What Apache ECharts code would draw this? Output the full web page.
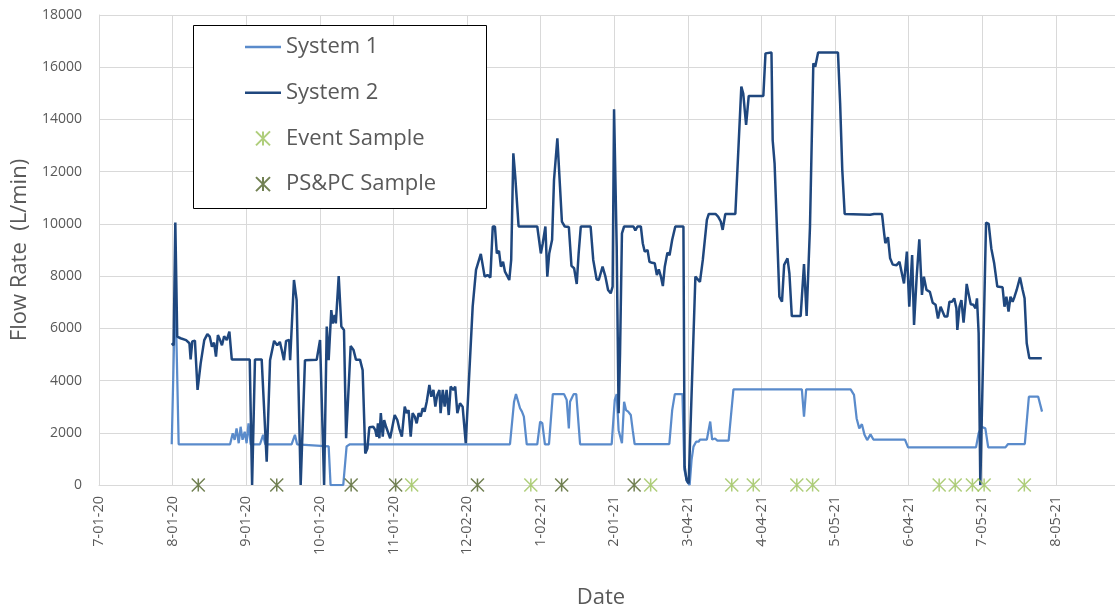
<!DOCTYPE html>
<html>
<head>
<meta charset="utf-8">
<script src="https://cdn.jsdelivr.net/npm/echarts@6/dist/echarts.min.js"></script>
<style>
html,body{margin:0;padding:0;background:#ffffff;}
#chart{width:1115px;height:607px;}
</style>
</head>
<body>
<div id="chart"></div>
<script>
// x values are days since 7-01-20
const tickLabels = ['7-01-20','8-01-20','9-01-20','10-01-20','11-01-20','12-02-20','1-02-21','2-01-21','3-04-21','4-04-21','5-05-21','6-04-21','7-05-21','8-05-21'];
const X_INTERVAL = 400 / 13;
const X_MAX = 424.7;

const seriesNames = ['System 1', 'System 2', 'Event Sample', 'PS&PC Sample'];

const system1 = [
 [30.4,1560],[31.2,1560],[31.9,7600],[33.3,1560],[35.5,1560],[36.2,1600],[37,1560],[54.8,1560],
 [55.9,1980],[56.7,1730],[57.5,2170],[58.4,1600],[59.2,2230],[60,1730],[60.9,2040],[61.7,1600],
 [62.5,2360],[63.4,1560],[67.3,1560],[68.6,1920],[69.5,1560],[80.5,1560],[81.9,1920],[82.8,1560],
 [96,1480],[96.8,0],[102.1,0],[103.5,1480],[104.9,1560],[116.8,1560],[117.4,1600],[118,1560],
 [131,1560],[131.6,1590],[132.2,1560],[152.5,1560],[153.3,1600],[154,1560],[171.8,1560],
 [173.5,3190],[174.3,3480],[175.1,3480],[176,2940],[176.8,2810],[177.6,2620],[178.8,1560],
 [183.2,1560],[184.4,2430],[185.3,2370],[186.4,1560],[188.1,1560],[189.7,3480],[194.4,3480],
 [195.5,3260],[196.4,2170],[196.9,3190],[198.4,3480],[199.5,3480],[201.1,1560],[214.3,1560],
 [215.6,3260],[216.4,3480],[217.2,2100],[218.6,1600],[219.5,3190],[220.3,2870],[221.2,2810],
 [222.3,2680],[223.1,2100],[223.9,1570],[231,1570],[231.7,1600],[232.4,1570],[238.4,1570],
 [239.6,2870],[240.7,3480],[243.9,3480],[244.7,580],[245.8,130],[246.9,0],[247.7,960],
 [248.5,1470],[249.6,1660],[250.7,1660],[251.2,1740],[254.1,1740],[255.5,2430],[256.3,1740],
 [257.5,1780],[258.5,1700],[263.2,1700],[265.2,3660],[293.8,3660],[294.7,2620],[295.6,3660],
 [314.2,3660],[315.6,3450],[316.7,2550],[317.8,2170],[318.9,2330],[320,1920],[321.1,1720],
 [322.5,1940],[323.7,1740],[336.9,1740],[338.2,1440],[366.6,1440],[367.7,1980],[368.9,2230],
 [370.5,2170],[371.7,1440],[378.9,1440],[380,1570],[387,1570],[388.7,3380],[392.6,3380],[394.2,2810]
];

const system2 = [
 [30.4,5430],[31.2,5350],[31.9,10050],[32.7,5680],[34.1,5620],[36.4,5550],[37.8,5430],[38.3,4810],
 [39,5500],[40.1,5530],[41.2,3640],[42.5,4660],[44,5550],[45.3,5780],[46.3,5680],[47.2,5300],
 [48.1,5450],[48.9,4920],[49.7,5740],[50.6,5550],[51.4,5350],[52.3,5700],[53.4,5550],[54.5,5870],
 [55.5,4810],[63.0,4810],[64,0],[64.6,0],[65.2,4810],[68,4810],[68.6,4850],[70.1,890],[71.5,4780],
 [73.2,5520],[74.5,5350],[75.6,5480],[76.4,5170],[77.3,4780],[78.2,5520],[79.5,5550],[79.9,4780],
 [81.5,7850],[82.6,7090],[84.3,0],[86.1,4780],[91,4800],[92.4,5550],[93.2,5480],[94.1,0],
 [95.2,6070],[96,4780],[97.1,6700],[97.7,6190],[98.5,6510],[99,6190],[100.2,8000],[101.3,6070],
 [102.4,5940],[103.3,1790],[105.2,5320],[106.4,5170],[107.4,4800],[109.1,4800],[110.2,4400],
 [111.3,1210],[112.2,1400],[113,2210],[114.7,2230],[115.5,2100],[116.1,1850],[116.6,2360],
 [117.2,1790],[117.8,2750],[118.6,1850],[119.2,2490],[120,2230],[121.7,1790],[123.6,2680],
 [124.7,2490],[125.5,2170],[126.6,1850],[127.8,3000],[128.6,2750],[129.4,2870],[130.3,1850],
 [131.1,2750],[132,2620],[132.8,2360],[133.6,2750],[134.5,2620],[135.3,2940],[136.1,2810],
 [137,3190],[138.1,3830],[138.9,3380],[139.8,3640],[140.6,3000],[141.4,3450],[142.3,3640],
 [142.8,2750],[143.7,3640],[144.5,3000],[145.3,3640],[146.2,2680],[147,3770],[148.1,3640],
 [148.9,3770],[149.8,2750],[150.9,3130],[152,3000],[153.3,1600],[156.2,6830],[157.6,8240],
 [158.4,8170],[159.6,8850],[160.4,8870],[161.2,7980],[162.4,8040],[163.6,7950],[164.6,9900],
 [165.5,9900],[166.3,8870],[167.2,8970],[168,8360],[168.9,8550],[169.7,8170],[170.8,7980],
 [171.5,7850],[172.3,8620],[173.2,12700],[174,11810],[175.4,9900],[183.2,9900],[184.7,8870],
 [185.5,9260],[186.6,9900],[187.4,7980],[188.2,8870],[189.4,9390],[190.2,11680],[191.6,13280],
 [192.7,11430],[193.5,10090],[194.7,9900],[196.4,9880],[197.5,8390],[198.6,8300],[199.7,7700],
 [200.5,8870],[201.4,9900],[205.5,9900],[206.6,8620],[208,7880],[208.9,7850],[210.5,8360],
 [211.7,7980],[212.8,7470],[213.9,7340],[214.7,7600],[215.3,14390],[216.4,9130],[217.2,2750],
 [217.8,5040],[218.6,9640],[219.5,9900],[223.4,9900],[224.2,9750],[225.1,9900],[226.5,9900],
 [227.3,9260],[228.1,8940],[229.3,9000],[230.1,8550],[231.2,8510],[232.3,8490],[233.2,8040],
 [234,8260],[234.9,7980],[235.7,7620],[236.5,8360],[237.6,8900],[238.5,8800],[239.6,9390],
 [240.9,9900],[244.3,9900],[244.8,700],[245.6,190],[246.5,60],[247.3,60],[249.3,7980],
 [250.1,7950],[251.2,7780],[252.4,8620],[254.1,10150],[254.9,10380],[257.7,10380],[258.8,10280],
 [259.9,10090],[260.7,9770],[261.8,10380],[266,10380],[268.5,15260],[269.3,14990],[270.5,13790],
 [271.6,14900],[277.7,14900],[278.6,16530],[279.4,16560],[281.1,16560],[281.6,13210],[282.4,12320],
 [284.4,7210],[285.5,7020],[286.4,8430],[287.8,8680],[288.6,8100],[289.6,6470],[293.3,6470],
 [294.7,8460],[295.8,6470],[297.2,9890],[298.6,16150],[299.4,16020],[300.6,16560],[308.9,16560],
 [309.8,14620],[310.7,12070],[311.7,10380],[322.3,10350],[323.1,10300],[324,10380],[327.3,10380],
 [328.2,9640],[328.7,9260],[329.8,9490],[330.7,8680],[331.8,8440],[333.4,8420],[334.6,8550],
 [335.4,8200],[336.5,7720],[337.7,8940],[338.7,6830],[339.9,8810],[340.7,6130],[341.8,7980],
 [342.9,9410],[344,7280],[344.8,7980],[345.9,7470],[347.3,7400],[348.5,6980],[349.7,6900],
 [350.7,6380],[351.8,6830],[352.6,6900],[353.5,6450],[354.6,6450],[355.5,7020],[356.6,7020],
 [357.5,7150],[358.4,6770],[358.8,5940],[359.7,6830],[360.5,7080],[361.4,6220],[362.2,7020],
 [362.7,7700],[363.6,7280],[364.4,6920],[365.5,6900],[366.4,6770],[367,7150],[367.7,5810],
 [368.4,0],[368.9,0],[370.8,10050],[371.9,10000],[373,9060],[374.2,8490],[375.5,7600],
 [377.7,7570],[378.5,6830],[379.3,7210],[380.2,6640],[381,7210],[381.9,7020],[382.7,7210],
 [383.6,7470],[385,7950],[386.1,7470],[386.9,7150],[387.8,5430],[388.9,4850],[394.1,4850]
];

const eventSampleDays = [130.7,180.5,230.6,264.5,273.5,291.7,298.3,351.2,357.9,365.1,370,386.8];
const pspcSampleDays = [41.5,74.3,105.4,124,158.2,193.4,223.7];

const C1 = '#5A8BCB';
const C2 = '#1F477E';
const CE = '#9BC25A';
const CP = '#4F6228';
const GRID = '#D9D9D9';
const TXT = '#595959';
const FONT = 'Open Sans';
const STAR = 'path://M0,0L12,12M12,0L0,12M6,0L6,12';
const LINE_ICON = 'path://M0,0L36,0L36,2.5L0,2.5Z';

const chart = echarts.init(document.getElementById('chart'), null, {renderer: 'canvas'});

const option = {
  animation: false,
  backgroundColor: '#ffffff',
  textStyle: {fontFamily: FONT},
  grid: {left: 99, right: 0, top: 15, bottom: 122, containLabel: false, outerBoundsMode: 'none'},
  graphic: [{
    type: 'rect', z: 3,
    shape: {x: 193.5, y: 25.5, width: 293, height: 183},
    style: {fill: '#ffffff', stroke: '#000000', lineWidth: 1}
  }],
  legend: {
    orient: 'vertical', left: 245, top: 35, padding: 0, z: 5,
    itemWidth: 36, itemHeight: 14, itemGap: 21.7,
    textStyle: {fontSize: 22, color: TXT, fontFamily: FONT, lineHeight: 24},
    data: [
      {name: seriesNames[0], icon: LINE_ICON},
      {name: seriesNames[1], icon: LINE_ICON},
      {name: seriesNames[2]},
      {name: seriesNames[3]}
    ]
  },
  xAxis: {
    type: 'value', min: 0, max: X_MAX, interval: X_INTERVAL,
    axisLine: {show: true, lineStyle: {color: GRID, width: 1}},
    axisTick: {show: false},
    splitLine: {show: true, lineStyle: {color: GRID, width: 1}},
    axisLabel: {
      rotate: 90, margin: 11, fontSize: 14.5, color: TXT, fontFamily: FONT,
      formatter: function (v) {
        const i = Math.round(v / X_INTERVAL);
        if (Math.abs(v - i * X_INTERVAL) > 0.05) return '';
        return tickLabels[i] || '';
      }
    },
    name: 'Date', nameLocation: 'middle', nameGap: 102,
    nameTextStyle: {fontSize: 22, color: TXT, fontFamily: FONT, padding: [0, 12, 0, 0]}
  },
  yAxis: {
    type: 'value', min: 0, max: 18000, interval: 2000,
    axisLine: {show: true, lineStyle: {color: GRID, width: 1}},
    axisTick: {show: false},
    splitLine: {show: true, lineStyle: {color: GRID, width: 1}},
    axisLabel: {fontSize: 14, color: TXT, margin: 17, fontFamily: FONT, formatter: v => String(v)},
    name: 'Flow Rate  (L/min)', nameLocation: 'middle', nameGap: 62,
    nameTextStyle: {fontSize: 22, color: TXT, fontFamily: FONT}
  },
  series: [
    {
      name: seriesNames[0], type: 'line', data: system1, symbol: 'none', showSymbol: false,
      lineStyle: {color: C1, width: 2.25}, itemStyle: {color: C1}, z: 2
    },
    {
      name: seriesNames[1], type: 'line', data: system2, symbol: 'none', showSymbol: false,
      lineStyle: {color: C2, width: 2.5}, itemStyle: {color: C2}, z: 2
    },
    {
      name: seriesNames[2], type: 'scatter', data: eventSampleDays.map(d => [d, 0]),
      symbol: STAR, symbolSize: 13,
      itemStyle: {color: CE, borderColor: CE, borderWidth: 1.5}, z: 4
    },
    {
      name: seriesNames[3], type: 'scatter', data: pspcSampleDays.map(d => [d, 0]),
      symbol: STAR, symbolSize: 13,
      itemStyle: {color: CP, borderColor: CP, borderWidth: 1.5}, z: 4
    }
  ]
};
chart.setOption(option);
</script>
</body>
</html>
